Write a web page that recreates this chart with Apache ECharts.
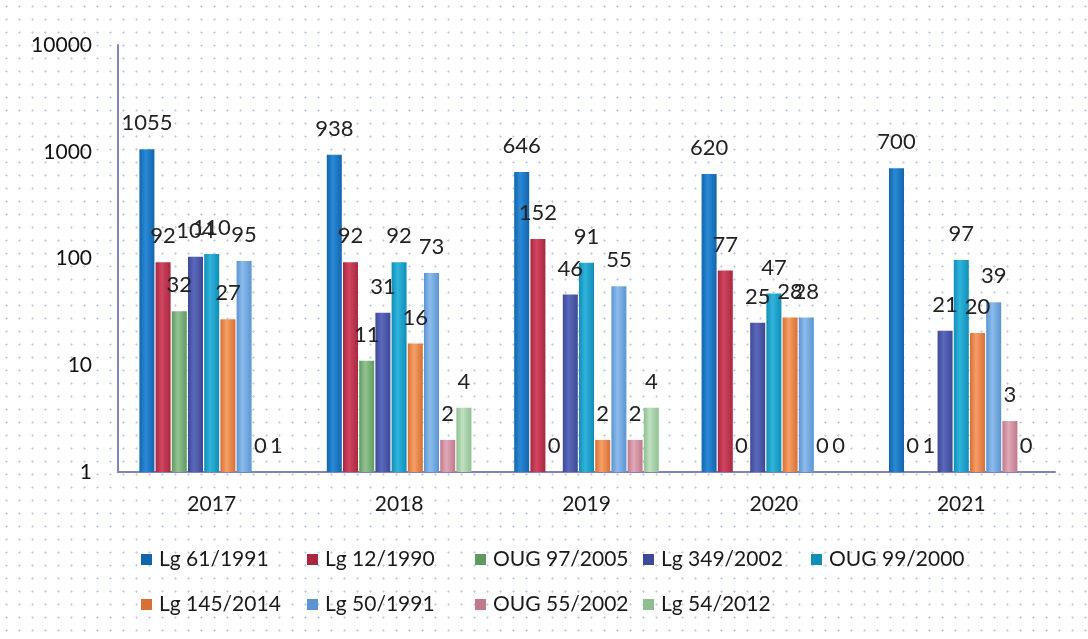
<!DOCTYPE html>
<html>
<head>
<meta charset="utf-8">
<script src="https://cdn.jsdelivr.net/npm/echarts@6/dist/echarts.min.js"></script>
<style>
  html, body { margin: 0; padding: 0; }
  body {
    background-color: #fff;
    background-image: radial-gradient(#c3cbe8 0.9px, transparent 1.3px);
    background-size: 13px 13px;
  }
  #chart { width: 1088px; height: 639px; }
</style>
</head>
<body>
<div id="chart"></div>
<script>
// categories
const years = ['2017', '2018', '2019', '2020', '2021'];

// series values (0 is drawn at the axis floor, label keeps the real value)
const lg61 = [1055, 938, 646, 620, 700];
const lg12 = [92, 92, 152, 77, 0];
const oug97 = [32, 11, 0, 0, 1];
const lg349 = [104, 31, 46, 25, 21];
const oug99 = [110, 92, 91, 47, 97];
const lg145 = [27, 16, 2, 28, 20];
const lg50 = [95, 73, 55, 28, 39];
const oug55 = [0, 2, 2, 0, 3];
const lg54 = [1, 4, 4, 0, 0];

const names = ['Lg 61/1991', 'Lg 12/1990', 'OUG 97/2005', 'Lg 349/2002', 'OUG 99/2000',
               'Lg 145/2014', 'Lg 50/1991', 'OUG 55/2002', 'Lg 54/2012'];
const values = [lg61, lg12, oug97, lg349, oug99, lg145, lg50, oug55, lg54];

// bar colours: [edge, highlight]
const colors = [
    ['#1265ad', '#2a8ad6'],
    ['#a8283f', '#d24560'],
    ['#5f9a62', '#93c492'],
    ['#3d4896', '#5c68bb'],
    ['#0f8eb8', '#30b4dc'],
    ['#d86f34', '#f4a067'],
    ['#5a94d2', '#8dbcec'],
    ['#c07a8c', '#e0a8b6'],
    ['#8fbf91', '#c0e0c0']
];

// legend positions (left, top)
const legendPos = [
    [141, 549], [307, 549], [475, 549], [643, 549], [811, 549],
    [141, 594], [307, 594], [475, 594], [643, 594]
];

const font = 'Lato, "Open Sans", sans-serif';

const chart = echarts.init(document.getElementById('chart'));

const series = names.map((name, i) => ({
    name,
    type: 'bar',
    barWidth: 15,
    barGap: '8%',
    data: values[i].map(v => ({ value: Math.max(v, 1), raw: v })),
    itemStyle: {
        color: new echarts.graphic.LinearGradient(0, 0, 1, 0, [
            { offset: 0, color: colors[i][0] },
            { offset: 0.4, color: colors[i][1] },
            { offset: 1, color: colors[i][0] }
        ])
    },
    label: {
        show: true,
        position: 'top',
        distance: 15,
        fontFamily: font,
        fontSize: 22,
        color: '#222',
        formatter: p => String(p.data.raw)
    }
}));

const legends = names.map((name, i) => ({
    data: [{ name, itemStyle: { color: colors[i][0] } }],
    left: legendPos[i][0],
    top: legendPos[i][1],
    icon: 'rect',
    itemWidth: 11,
    itemHeight: 11,
    itemGap: 0,
    padding: 0,
    textStyle: { fontFamily: font, fontSize: 21, color: '#1a1a1a', padding: [0, 0, 0, 2] }
}));

chart.setOption({
    animation: false,
    backgroundColor: 'transparent',
    grid: { left: 118, right: 33, top: 45, bottom: 167 },
    legend: legends,
    xAxis: {
        type: 'category',
        data: years,
        axisLine: { lineStyle: { color: '#8084b8', width: 2 } },
        axisTick: { show: false },
        axisLabel: { fontFamily: font, fontSize: 21, color: '#1a1a1a', margin: 22 }
    },
    yAxis: {
        type: 'log',
        logBase: 10,
        min: 1,
        max: 10000,
        axisLine: { show: true, lineStyle: { color: '#8084b8', width: 2 } },
        axisTick: { show: false },
        splitLine: { show: false },
        axisLabel: {
            fontFamily: font,
            fontSize: 21,
            color: '#111',
            margin: 26,
            formatter: v => String(Math.round(v))
        }
    },
    series
});
</script>
</body>
</html>
